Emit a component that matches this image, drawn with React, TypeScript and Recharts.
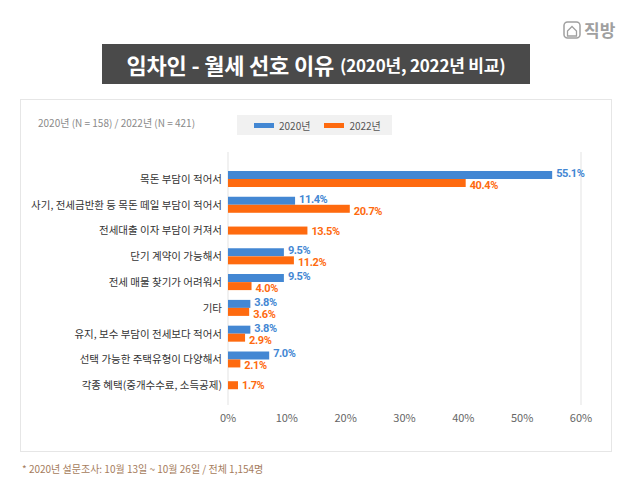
import { Bar, BarChart, CartesianGrid, LabelList, XAxis, YAxis } from 'recharts';

const reasons = [
    '목돈 부담이 적어서',
    '사기, 전세금반환 등 목돈 떼일 부담이 적어서',
    '전세대출 이자 부담이 커져서',
    '단기 계약이 가능해서',
    '전세 매물 찾기가 어려워서',
    '기타',
    '유지, 보수 부담이 전세보다 적어서',
    '선택 가능한 주택유형이 다양해서',
    '각종 혜택(중개수수료, 소득공제)',
];
const share2020: (number | null)[] = [55.1, 11.4, null, 9.5, 9.5, 3.8, 3.8, 7.0, null];
const share2022 = [40.4, 20.7, 13.5, 11.2, 4.0, 3.6, 2.9, 2.1, 1.7];
const ticks = [0, 10, 20, 30, 40, 50, 60];

const data = reasons.map((name, i) => ({ name, v2020: share2020[i], v2022: share2022[i] }));

const BLUE = '#4387d3';
const ORANGE = '#fe6a0f';
const FONT = '"Noto Sans CJK KR", "Noto Sans", sans-serif';

const fmt = (v: any) => (v == null ? '' : `${Number(v).toFixed(1)}%`);

// orange bar is centred in its row when there is no 2020 value
const OrangeShape = (props: any) => {
    const { x, y, width, height, payload } = props;
    const dy = payload && payload.v2020 == null ? -height / 2 : 0;
    return <rect x={x} y={y + dy} width={width} height={height} fill={ORANGE} />;
};

const makeLabel = (color: string, isOrange: boolean) => (props: any) => {
    const { x, y, width, height, value, index } = props;
    if (value == null) return null;
    const single = isOrange && data[index] && data[index].v2020 == null;
    let cy = y + height / 2;
    if (single) cy -= height / 2;
    else cy += isOrange ? 2 : -2;
    return (
        <text
            x={x + width + 4}
            y={cy}
            dy={4}
            fill={color}
            fontSize={11}
            fontWeight={700}
            fontFamily="Roboto, sans-serif"
            letterSpacing={-0.4}
        >
            {fmt(value)}
        </text>
    );
};

const CategoryTick = (props: any) => {
    const { x, y, payload } = props;
    return (
        <text x={x} y={y} dy={4} textAnchor="end" fontSize={10.5} fill="#333" fontFamily={FONT}>
            {payload.value}
        </text>
    );
};

export default function App() {
    return (
        <div
            style={{
                position: 'absolute',
                left: 0,
                top: 0,
                width: 630,
                height: 499,
                background: '#fff',
                fontFamily: FONT,
                overflow: 'hidden',
            }}
        >
            {/* logo */}
            <div style={{ position: 'absolute', left: 563, top: 17, display: 'flex', alignItems: 'center', color: '#a0a0a0' }}>
                <svg width="18" height="18" viewBox="0 0 18 18">
                    <rect x="1" y="1" width="16" height="16" rx="3.5" fill="none" stroke="#a0a0a0" strokeWidth="1.5" />
                    <path d="M4.5 10 L9 5.5 L13.5 10 L13.5 15 L4.5 15 Z" fill="none" stroke="#a0a0a0" strokeWidth="1.3" />
                </svg>
                <span style={{ fontSize: 17, fontWeight: 700, marginLeft: 3 }}>직방</span>
            </div>

            {/* title */}
            <div
                style={{
                    position: 'absolute',
                    left: 102,
                    top: 44,
                    width: 428,
                    height: 40,
                    background: '#4a4a4a',
                    color: '#fff',
                    display: 'flex',
                    alignItems: 'center',
                    justifyContent: 'center',
                    fontWeight: 700,
                    whiteSpace: 'nowrap',
                }}
            >
                <span style={{ fontSize: 22, letterSpacing: -0.2 }}>임차인 - 월세 선호 이유</span>
                <span style={{ fontSize: 17, marginLeft: 6, letterSpacing: -0.2 }}>(2020년, 2022년 비교)</span>
            </div>

            {/* panel */}
            <div
                style={{
                    position: 'absolute',
                    left: 20,
                    top: 99,
                    width: 592,
                    height: 353,
                    border: '1px solid #e6e6e6',
                    boxSizing: 'border-box',
                }}
            />

            <div style={{ position: 'absolute', left: 38, top: 115, fontSize: 10, color: '#8a8a8a' }}>
                2020년 (N = 158) / 2022년 (N = 421)
            </div>

            {/* legend */}
            <div
                style={{
                    position: 'absolute',
                    left: 237,
                    top: 115,
                    width: 155,
                    height: 20,
                    background: '#f1f1f1',
                    display: 'flex',
                    alignItems: 'center',
                    fontSize: 10,
                    color: '#555',
                }}
            >
                <span style={{ display: 'inline-block', width: 20, height: 5, background: BLUE, marginLeft: 17 }} />
                <span style={{ marginLeft: 5 }}>2020년</span>
                <span style={{ display: 'inline-block', width: 20, height: 5, background: ORANGE, marginLeft: 14 }} />
                <span style={{ marginLeft: 5 }}>2022년</span>
            </div>

            {/* grid only: runs a little above and below the bars */}
            <div style={{ position: 'absolute', left: 0, top: 0 }}>
                <BarChart
                    width={630}
                    height={499}
                    data={data}
                    layout="vertical"
                    margin={{ top: 152, right: 49, bottom: 94, left: 228 }}
                >
                    <CartesianGrid horizontal={false} stroke="#e3e3e3" />
                    <XAxis type="number" domain={[0, 60]} ticks={ticks} hide />
                    <YAxis type="category" dataKey="name" hide />
                </BarChart>
            </div>

            <div style={{ position: 'absolute', left: 0, top: 0 }}>
                <BarChart
                    width={630}
                    height={499}
                    data={data}
                    layout="vertical"
                    margin={{ top: 166, right: 49, bottom: 71, left: 18 }}
                    barGap={0}
                    barSize={8}
                >
                    <XAxis
                        type="number"
                        domain={[0, 60]}
                        ticks={ticks}
                        tickFormatter={(v) => `${v}%`}
                        axisLine={false}
                        tickLine={false}
                        tickMargin={10}
                        tick={{ fontSize: 11, fill: '#666', fontFamily: FONT }}
                        height={30}
                    />
                    <YAxis
                        type="category"
                        dataKey="name"
                        width={210}
                        axisLine={false}
                        tickLine={false}
                        tickSize={0}
                        tickMargin={6}
                        interval={0}
                        tick={<CategoryTick />}
                    />
                    <Bar dataKey="v2020" fill={BLUE} isAnimationActive={false}>
                        <LabelList dataKey="v2020" content={makeLabel(BLUE, false)} />
                    </Bar>
                    <Bar dataKey="v2022" fill={ORANGE} shape={OrangeShape} isAnimationActive={false}>
                        <LabelList dataKey="v2022" content={makeLabel(ORANGE, true)} />
                    </Bar>
                </BarChart>
            </div>

            <div style={{ position: 'absolute', left: 22, top: 461, fontSize: 10, color: '#a57c5c' }}>
                * 2020년 설문조사: 10월 13일 ~ 10월 26일 / 전체 1,154명
            </div>
        </div>
    );
}
